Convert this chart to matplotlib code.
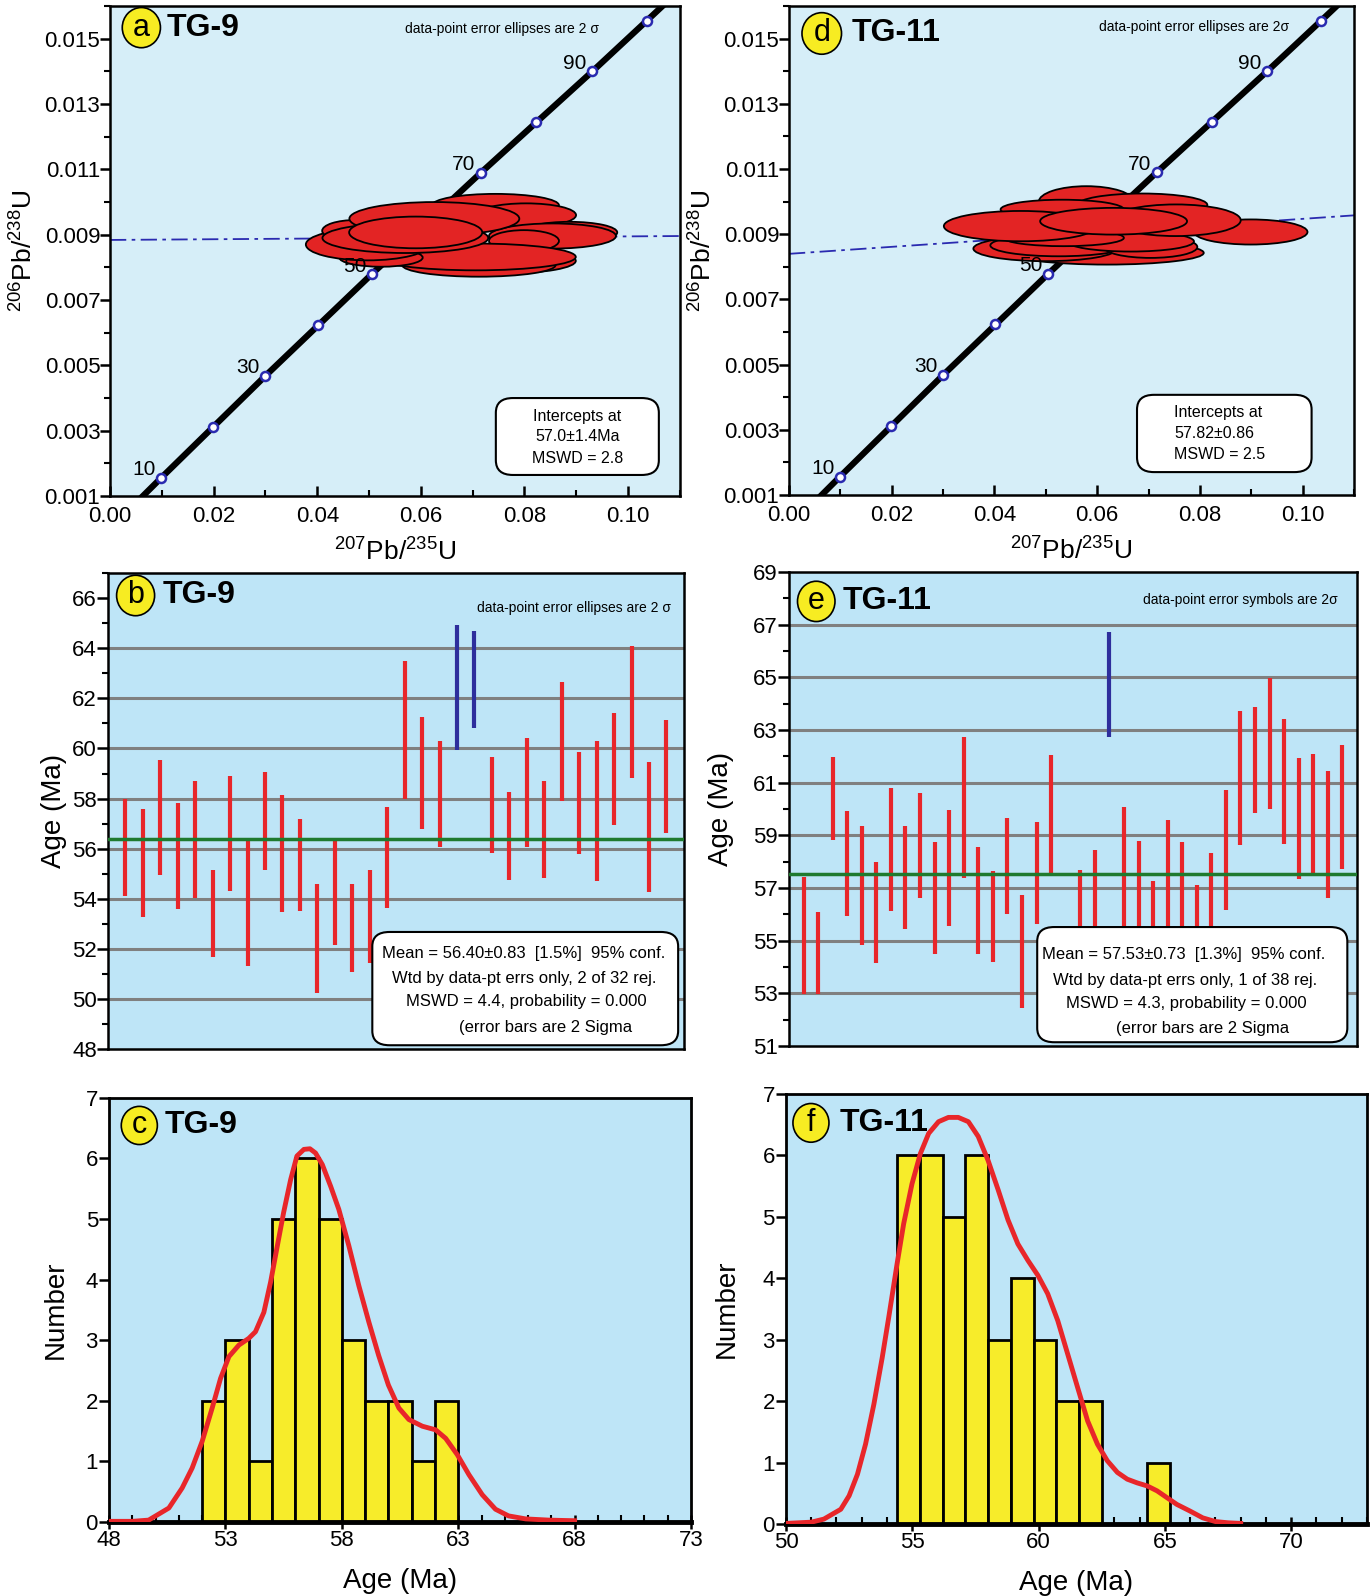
import numpy as np
import matplotlib.pyplot as plt
from matplotlib.patches import Ellipse, FancyBboxPatch
from matplotlib.ticker import MultipleLocator, FormatStrFormatter

plt.rcParams['font.family'] = ['Liberation Sans', 'DejaVu Sans']
plt.rcParams['mathtext.fontset'] = 'custom'
plt.rcParams['mathtext.rm'] = 'Liberation Sans'

# ---- concordia (same curve on a and d)
conc_age = [10, 20, 30, 40, 50, 60, 70, 80, 90, 100]
conc_x = [0.0099, 0.0199, 0.0300, 0.0402, 0.0505, 0.0610, 0.0716, 0.0823, 0.0931, 0.1036]
conc_y = [0.00156, 0.00312, 0.00468, 0.00624, 0.00779, 0.00935, 0.01090, 0.01245, 0.01400, 0.01555]
conc_line_x = [0.0000, 0.0099, 0.0300, 0.0505, 0.0716, 0.0931, 0.1036, 0.1120]
conc_line_y = [0.00000, 0.00156, 0.00468, 0.00779, 0.01090, 0.01400, 0.01555, 0.01680]
conc_labeled = [10, 30, 50, 70, 90]

# TG-9 ellipses (drawn in this order): centre x, centre y, width, height
a_ex = [0.0744, 0.0803, 0.0887, 0.0854, 0.0799, 0.0764, 0.0712, 0.0706, 0.0523, 0.0497,
        0.0474, 0.0570, 0.0626, 0.0590]
a_ey = [0.00990, 0.00960, 0.00907, 0.00896, 0.00881, 0.00820, 0.00807, 0.00832, 0.00830, 0.00870,
        0.00912, 0.00890, 0.00949, 0.00907]
a_ew = [0.0245, 0.0193, 0.0184, 0.0245, 0.0135, 0.0270, 0.0296, 0.0386, 0.0161, 0.0238,
        0.0129, 0.0320, 0.0328, 0.0257]
a_eh = [0.00070, 0.00072, 0.00065, 0.00077, 0.00066, 0.00077, 0.00071, 0.00082, 0.00056, 0.00097,
        0.00066, 0.00092, 0.00102, 0.00097]
a_disc = [(0.0, 0.00884), (0.11, 0.00896)]

# TG-11 ellipses
d_ex = [0.0579, 0.0688, 0.0532, 0.0619, 0.0499, 0.0525, 0.0704, 0.0665, 0.0535, 0.0899,
        0.0753, 0.0451, 0.0632]
d_ey = [0.01000, 0.00990, 0.00976, 0.00843, 0.00856, 0.00866, 0.00861, 0.00878, 0.00889, 0.00907,
        0.00943, 0.00925, 0.00940]
d_ew = [0.0185, 0.0253, 0.0240, 0.0377, 0.0280, 0.0266, 0.0182, 0.0247, 0.0234, 0.0221,
        0.0253, 0.0299, 0.0286]
d_eh = [0.00095, 0.00070, 0.00060, 0.00072, 0.00077, 0.00067, 0.00067, 0.00062, 0.00051, 0.00077,
        0.00097, 0.00093, 0.00082]
d_disc = [(0.0, 0.00840), (0.11, 0.00958)]

# ---- weighted mean plots (2 sigma error bar ends)
b_top = [57.97, 57.57, 59.54, 57.83, 58.72, 55.15, 58.92, 56.30, 59.08, 58.13, 57.17, 54.58, 56.43,
         54.58, 55.15, 57.65, 63.51, 61.26, 60.30, 64.94, 64.70, 59.66, 58.26, 60.42, 58.72, 62.64,
         59.86, 60.30, 61.41, 64.11, 59.46, 61.13]
b_bot = [54.12, 53.29, 54.95, 53.60, 54.05, 51.67, 54.31, 51.31, 55.15, 53.49, 53.52, 50.25, 52.14,
         51.08, 51.44, 53.65, 57.99, 56.78, 56.07, 59.94, 60.81, 55.81, 54.75, 56.05, 54.82, 57.89,
         55.77, 54.71, 56.93, 58.83, 54.25, 56.64]
b_rej = [20, 21]
b_mean = 56.40

e_top = [57.40, 56.10, 61.98, 59.93, 59.34, 57.98, 60.80, 59.34, 60.61, 58.74, 59.98, 62.72, 58.56,
         57.66, 59.64, 56.75, 59.49, 62.05, 55.20, 57.69, 58.45, 66.71, 60.08, 58.80, 57.28, 59.59,
         58.74, 57.13, 58.32, 60.71, 63.72, 63.89, 64.98, 63.43, 61.94, 62.09, 61.44, 62.42]
e_bot = [52.96, 52.96, 58.82, 55.93, 54.84, 54.14, 56.12, 55.43, 56.63, 54.49, 55.56, 57.38, 54.49,
         54.18, 56.02, 52.45, 55.62, 57.44, 52.20, 54.00, 54.60, 62.72, 55.30, 54.50, 53.80, 54.90,
         54.40, 53.50, 54.20, 56.16, 58.64, 59.83, 59.99, 58.67, 57.34, 57.51, 56.63, 57.72]
e_rej = [22]
e_mean = 57.53

# ---- histograms + probability density curves
c_edges = [52, 53, 54, 55, 56, 57, 58, 59, 60, 61, 62]
c_counts = [2, 3, 1, 5, 6, 5, 3, 2, 2, 1, 2]
c_binw = 1.0
c_kx = [48.0, 49.0, 49.7, 50.57, 51.14, 51.57, 52.0, 52.43, 52.79, 53.15, 53.58, 54.0, 54.29, 54.65,
        54.94, 55.23, 55.5, 55.8, 56.07, 56.37, 56.63, 56.87, 57.16, 57.52, 57.87, 58.3, 58.73, 59.16,
        59.58, 60.0, 60.45, 60.88, 61.46, 62.03, 62.46, 62.96, 63.46, 64.03, 64.6, 65.16, 65.9, 66.9,
        68.0]
c_ky = [0.01, 0.01, 0.03, 0.23, 0.56, 0.89, 1.33, 1.88, 2.37, 2.73, 2.92, 3.03, 3.14, 3.46,
        3.96, 4.56, 5.11, 5.65, 6.04, 6.15, 6.16, 6.09, 5.90, 5.54, 5.16, 4.56, 3.90, 3.30,
        2.75, 2.26, 1.88, 1.69, 1.58, 1.52, 1.38, 1.11, 0.78, 0.45, 0.21, 0.10, 0.05, 0.03,
        0.02]

f_edges = [54.4, 55.3, 56.2, 57.1, 58.0, 58.9, 59.8, 60.7, 61.6, 64.3]
f_counts = [6, 6, 5, 6, 3, 4, 3, 2, 2, 1]
f_binw = 0.9
f_kx = [50.0, 51.0, 51.5, 52.17, 52.5, 52.83, 53.15, 53.48, 53.81, 54.07, 54.4, 54.66, 54.99, 55.32,
        55.65, 56.04, 56.43, 56.82, 57.22, 57.61, 58.0, 58.4, 58.79, 59.18, 59.58, 59.97, 60.36,
        60.76, 61.15, 61.54, 61.94, 62.33, 62.72, 63.12, 63.51, 63.9, 64.3, 64.69, 65.08, 65.47,
        66.0, 66.5, 67.0, 67.5, 68.0]
f_ky = [0.01, 0.03, 0.08, 0.24, 0.46, 0.81, 1.30, 1.95, 2.71, 3.37, 4.24, 4.89, 5.54, 6.03,
        6.36, 6.55, 6.62, 6.62, 6.55, 6.31, 5.92, 5.44, 4.95, 4.56, 4.29, 4.05, 3.75,
        3.31, 2.77, 2.23, 1.68, 1.30, 1.03, 0.84, 0.73, 0.67, 0.62, 0.54, 0.43, 0.32,
        0.21, 0.10, 0.04, 0.02, 0.01]

BG1 = '#d6eef8'
BG2 = '#bee5f7'
RED = '#e8262a'
BLUE = '#2e2e9c'

fig = plt.figure(figsize=(13.7, 15.96), dpi=100)


def badge(ax, letter, name, cx, cy, w, h, tx):
    ax.add_patch(Ellipse((cx, cy), w, h, transform=ax.transAxes, facecolor='#f7ec22',
                         edgecolor='black', lw=1.2, zorder=20, clip_on=False))
    ax.text(cx, cy, letter, transform=ax.transAxes, ha='center', va='center',
            fontsize=22, zorder=21)
    ax.text(tx, cy, name, transform=ax.transAxes, ha='left', va='center',
            fontsize=23, fontweight='bold', zorder=21)


def box(ax, x0, y0, x1, y1):
    ax.add_patch(FancyBboxPatch((x0, y0), x1 - x0, y1 - y0, transform=ax.transAxes,
                                boxstyle='round,pad=0,rounding_size=0.03', facecolor='white',
                                edgecolor='black', lw=1.5, zorder=15))


def concordia(ax, ex, ey, ew, eh, disc):
    ax.set_facecolor(BG1)
    ax.plot([p[0] for p in disc], [p[1] for p in disc], color='#2a2ab0', lw=1.3,
            ls=(0, (9, 3, 2, 3)), zorder=2)
    ax.plot(conc_line_x, conc_line_y, color='black', lw=4.5, zorder=3, solid_capstyle='butt')
    ax.plot(conc_x, conc_y, 'o', ms=6.5, mfc='white', mec='#2a2ab0', mew=1.8, zorder=4)
    for x, y, w, h in zip(ex, ey, ew, eh):
        ax.add_patch(Ellipse((x, y), w, h, facecolor='#e32424', edgecolor='black', lw=1.3, zorder=5))
    for age, x, y in zip(conc_age, conc_x, conc_y):
        if age in conc_labeled:
            ax.annotate(str(age), (x, y), xytext=(-4, -1), textcoords='offset points',
                        ha='right', va='bottom', fontsize=15, zorder=7)
    ax.set_xlim(0, 0.11)
    ax.set_ylim(0.001, 0.016)
    ax.set_xticks([0.00, 0.02, 0.04, 0.06, 0.08, 0.10])
    ax.xaxis.set_major_formatter(FormatStrFormatter('%.2f'))
    ax.xaxis.set_minor_locator(MultipleLocator(0.01))
    ax.set_yticks([0.001, 0.003, 0.005, 0.007, 0.009, 0.011, 0.013, 0.015])
    ax.yaxis.set_major_formatter(FormatStrFormatter('%.3f'))
    ax.yaxis.set_minor_locator(MultipleLocator(0.001))
    ax.tick_params(axis='both', labelsize=16, width=1.8, length=7)
    ax.tick_params(axis='x', direction='in', pad=7)
    ax.tick_params(axis='y', pad=0)
    ax.tick_params(which='minor', width=1.5, length=4)
    ax.tick_params(axis='x', which='minor', direction='in')
    ax.set_xlabel('$^{207}$Pb/$^{235}$U', fontsize=19, labelpad=7)
    ax.set_ylabel('$^{206}$Pb/$^{238}$U', fontsize=19, labelpad=6)
    for s in ax.spines.values():
        s.set_linewidth(1.8)


def wmean(ax, top, bot, rej, mean, ylim, grid, pad):
    ax.set_facecolor(BG2)
    for g in grid:
        ax.axhline(g, color='#808080', lw=2.2, zorder=1)
    n = len(top)
    xs = np.arange(1, n + 1)
    cols = [BLUE if i in rej else RED for i in xs]
    ax.vlines(xs, bot, top, colors=cols, lw=3, zorder=3)
    ax.axhline(mean, color='#1f7a2e', lw=2.5, zorder=4)
    ax.set_xlim(0, n + 1)
    ax.set_ylim(*ylim)
    ax.set_xticks([])
    ax.set_yticks(np.arange(ylim[0], ylim[1] + 0.1, 2))
    ax.yaxis.set_minor_locator(MultipleLocator(1))
    ax.tick_params(axis='y', labelsize=16, width=1.8, length=8, pad=0)
    ax.tick_params(axis='y', which='minor', width=1.5, length=4)
    ax.set_ylabel('Age (Ma)', fontsize=20, labelpad=pad)
    for s in ax.spines.values():
        s.set_linewidth(1.8)


def hist(ax, edges, counts, binw, kx, ky, xlim, xt, pad):
    ax.set_facecolor(BG2)
    ax.bar(edges, counts, width=binw, align='edge', color='#f7ec2a', edgecolor='black', lw=2, zorder=2)
    ax.plot(kx, ky, color=RED, lw=3.5, zorder=3, solid_joinstyle='round')
    ax.set_xlim(*xlim)
    ax.set_ylim(0, 7)
    ax.set_xticks(xt)
    ax.xaxis.set_minor_locator(MultipleLocator(1))
    ax.set_yticks(range(8))
    ax.tick_params(axis='both', labelsize=16, width=1.8, length=7)
    ax.tick_params(axis='y', pad=1)
    ax.tick_params(axis='x', direction='inout', length=10, pad=1)
    ax.tick_params(axis='x', which='minor', direction='in', length=5, width=1.5)
    ax.set_xlabel('Age (Ma)', fontsize=20, labelpad=12)
    ax.set_ylabel('Number', fontsize=20, labelpad=pad)
    for s in ax.spines.values():
        s.set_linewidth(2)
    ax.spines['bottom'].set_linewidth(3.5)


# a
ax = fig.add_axes([0.0803, 0.6892, 0.416, 0.307])
concordia(ax, a_ex, a_ey, a_ew, a_eh, a_disc)
badge(ax, 'a', 'TG-9', 0.055, 0.956, 0.067, 0.082, 0.1)
ax.text(0.688, 0.954, 'data-point error ellipses are 2 σ', transform=ax.transAxes,
        ha='center', va='center', fontsize=10)
box(ax, 0.677, 0.043, 0.963, 0.2)
for t, yy in zip(['Intercepts at', '57.0±1.4Ma', 'MSWD = 2.8'], [0.163, 0.121, 0.077]):
    ax.text(0.82, yy, t, transform=ax.transAxes, ha='center', va='center', fontsize=11.5, zorder=16)

# d
ax = fig.add_axes([0.5759, 0.6898, 0.4124, 0.3064])
concordia(ax, d_ex, d_ey, d_ew, d_eh, d_disc)
badge(ax, 'd', 'TG-11', 0.058, 0.944, 0.07, 0.085, 0.11)
ax.text(0.717, 0.958, 'data-point error ellipses are 2σ', transform=ax.transAxes,
        ha='center', va='center', fontsize=10)
box(ax, 0.616, 0.047, 0.925, 0.205)
for t, yy in zip(['Intercepts at', '57.82±0.86', 'MSWD = 2.5'], [0.168, 0.126, 0.082]):
    ax.text(0.682, yy, t, transform=ax.transAxes, ha='left', va='center', fontsize=11.5, zorder=16)

# b
ax = fig.add_axes([0.0788, 0.3427, 0.4204, 0.2982])
wmean(ax, b_top, b_bot, b_rej, b_mean, (48, 67), range(50, 65, 2), 4)
ax.set_yticks(range(48, 67, 2))
badge(ax, 'b', 'TG-9', 0.048, 0.953, 0.066, 0.085, 0.095)
ax.text(0.81, 0.927, 'data-point error ellipses are 2 σ', transform=ax.transAxes,
        ha='center', va='center', fontsize=10)
box(ax, 0.459, 0.008, 0.99, 0.246)
for t, xx, yy in zip(['Mean = 56.40±0.83  [1.5%]  95% conf.', 'Wtd by data-pt errs only, 2 of 32 rej.',
                      'MSWD = 4.4, probability = 0.000', '(error bars are 2 Sigma'],
                     [0.722, 0.722, 0.727, 0.76], [0.2, 0.149, 0.1, 0.046]):
    ax.text(xx, yy, t, transform=ax.transAxes, ha='center', va='center', fontsize=12, zorder=16)

# e
ax = fig.add_axes([0.5759, 0.3446, 0.4146, 0.297])
wmean(ax, e_top, e_bot, e_rej, e_mean, (51, 69), range(53, 68, 2), 14)
ax.set_yticks(range(51, 70, 2))
badge(ax, 'e', 'TG-11', 0.048, 0.938, 0.066, 0.085, 0.095)
ax.text(0.795, 0.94, 'data-point error symbols are 2σ', transform=ax.transAxes,
        ha='center', va='center', fontsize=10)
box(ax, 0.437, 0.008, 0.983, 0.251)
for t, xx, yy in zip(['Mean = 57.53±0.73  [1.3%]  95% conf.', 'Wtd by data-pt errs only, 1 of 38 rej.',
                      'MSWD = 4.3, probability = 0.000', '(error bars are 2 Sigma'],
                     [0.695, 0.697, 0.7, 0.728], [0.193, 0.139, 0.089, 0.036]):
    ax.text(xx, yy, t, transform=ax.transAxes, ha='center', va='center', fontsize=12, zorder=16)

# c
ax = fig.add_axes([0.0796, 0.0464, 0.4248, 0.2657])
hist(ax, c_edges, c_counts, c_binw, c_kx, c_ky, (48, 73), [48, 53, 58, 63, 68, 73], 12)
badge(ax, 'c', 'TG-9', 0.052, 0.935, 0.062, 0.09, 0.096)

# f
ax = fig.add_axes([0.5737, 0.0451, 0.4241, 0.2694])
hist(ax, f_edges, f_counts, f_binw, f_kx, f_ky, (50, 73), [50, 55, 60, 65, 70], 16)
badge(ax, 'f', 'TG-11', 0.043, 0.933, 0.062, 0.09, 0.093)

fig.savefig('out.png', dpi=100)
